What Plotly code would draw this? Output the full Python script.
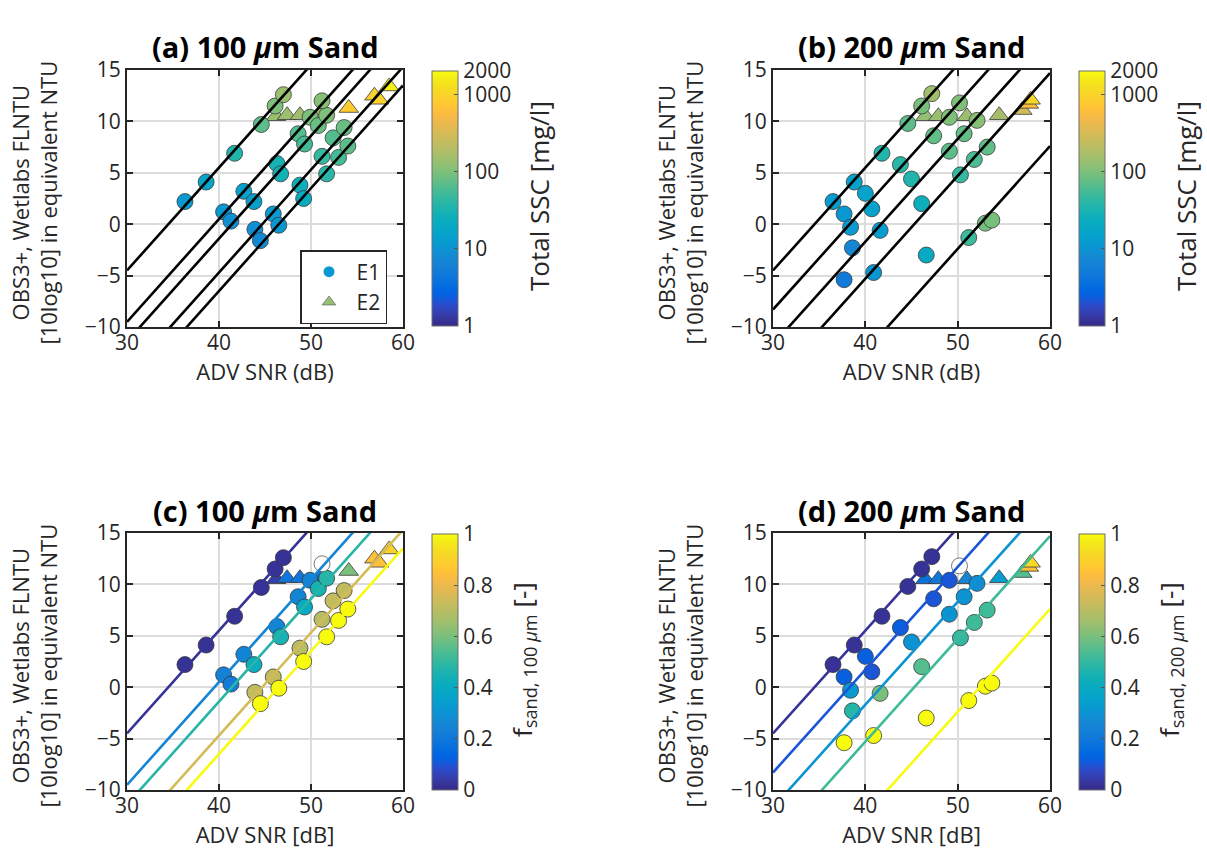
import numpy as np
import plotly.graph_objects as go

# ---------------- data: 100 um sand runs (panels a, c) ----------------
# E1 (circles)
snr_100 = [36.3, 38.6, 41.7, 44.6, 46.1, 47.0,
           40.5, 41.3, 42.7, 46.3, 48.6, 49.9,
           43.8, 46.7, 49.3, 50.8, 51.7,
           43.9, 45.9, 48.8, 51.2, 52.4, 53.6,
           44.5, 46.5, 49.2, 51.7, 53.0, 54.0,
           51.2]
obs_100 = [2.2, 4.1, 6.9, 9.7, 11.5, 12.6,
           1.2, 0.3, 3.2, 5.9, 8.8, 10.4,
           2.2, 4.9, 7.8, 9.6, 10.6,
           -0.5, 1.0, 3.8, 6.6, 8.4, 9.4,
           -1.6, -0.1, 2.5, 4.9, 6.5, 7.6,
           12.0]
ssc_100 = [12, 16, 35, 70, 100, 140,
           11, 9, 15, 30, 65, 95,
           14, 28, 55, 80, 100,
           9, 12, 25, 45, 65, 80,
           8, 11, 22, 40, 55, 70,
           110]
fsand_100 = [0.02, 0.02, 0.02, 0.02, 0.02, 0.02,
             0.24, 0.22, 0.25, 0.25, 0.25, 0.25,
             0.42, 0.45, 0.40, 0.45, 0.48,
             0.72, 0.72, 0.70, 0.70, 0.72, 0.72,
             1.0, 1.0, 1.0, 1.0, 1.0, 1.0,
             np.nan]
# E2 (triangles)
snr_100_e2 = [46.2, 47.4, 48.8, 51.0, 54.1, 56.9, 57.4, 58.5]
obs_100_e2 = [10.5, 10.6, 10.6, 10.6, 11.3, 12.5, 12.1, 13.4]
ssc_100_e2 = [140, 140, 150, 150, 800, 900, 950, 1700]
fsand_100_e2 = [0.05, 0.2, 0.2, 0.2, 0.6, 0.85, 0.85, 0.9]

# fitted calibration lines: OBS = SNR + offset
offset_100 = [-34.5, -39.5, -41.4, -44.7, -46.5]
line_f_100 = [0.02, 0.25, 0.48, 0.75, 1.0]

# ---------------- data: 200 um sand runs (panels b, d) ----------------
snr_200 = [36.5, 38.8, 41.8, 44.6, 46.1, 47.2,
           37.7, 40.0, 40.7, 43.8, 47.4, 49.1,
           38.4, 45.0, 49.1, 50.7, 52.1,
           38.6, 41.6, 46.1, 50.3, 51.8, 53.2,
           37.7, 40.9, 46.6, 51.2, 53.0, 53.7,
           50.2]
obs_200 = [2.2, 4.1, 6.9, 9.8, 11.5, 12.7,
           1.0, 3.0, 1.5, 5.8, 8.6, 10.4,
           -0.3, 4.4, 7.1, 8.8, 10.1,
           -2.3, -0.6, 2.0, 4.8, 6.3, 7.5,
           -5.4, -4.7, -3.0, -1.3, 0.1, 0.4,
           11.8]
ssc_200 = [13, 15, 35, 70, 95, 150,
           11, 16, 15, 40, 75, 100,
           12, 35, 70, 75, 110,
           7, 13, 25, 45, 60, 75,
           5, 11, 20, 50, 90, 95,
           100]
fsand_200 = [0.02, 0.02, 0.02, 0.02, 0.02, 0.02,
             0.12, 0.12, 0.10, 0.12, 0.10, 0.10,
             0.32, 0.30, 0.30, 0.30, 0.28,
             0.48, 0.60, 0.55, 0.50, 0.52, 0.52,
             1.0, 1.0, 1.0, 1.0, 1.0, 1.0,
             np.nan]
snr_200_e2 = [46.5, 47.9, 51.0, 54.5, 57.0, 57.7, 57.9]
obs_200_e2 = [10.5, 10.5, 10.5, 10.6, 11.1, 11.7, 12.1]
ssc_200_e2 = [130, 140, 140, 160, 280, 600, 1100]
fsand_200_e2 = [0.18, 0.2, 0.25, 0.33, 0.55, 0.85, 0.92]

offset_200 = [-34.5, -38.3, -41.7, -45.3, -52.4]
line_f_200 = [0.02, 0.1, 0.3, 0.52, 1.0]

ssc_ticks = [1, 10, 100, 1000, 2000]
fsand_ticks = [0, 0.2, 0.4, 0.6, 0.8, 1]
snr_range = [30, 60]
obs_range = [-10, 15]

# ---------------- parula colormap ----------------
PARULA = [
    (0.2081, 0.1663, 0.5292), (0.2116, 0.1898, 0.5777), (0.2123, 0.2138, 0.6270), (0.2081, 0.2386, 0.6771),
    (0.1959, 0.2645, 0.7279), (0.1707, 0.2919, 0.7792), (0.1253, 0.3242, 0.8303), (0.0591, 0.3598, 0.8683),
    (0.0117, 0.3875, 0.8820), (0.0060, 0.4086, 0.8828), (0.0165, 0.4266, 0.8786), (0.0329, 0.4430, 0.8720),
    (0.0498, 0.4586, 0.8641), (0.0629, 0.4737, 0.8554), (0.0723, 0.4887, 0.8467), (0.0779, 0.5040, 0.8384),
    (0.0793, 0.5200, 0.8312), (0.0749, 0.5375, 0.8263), (0.0641, 0.5570, 0.8240), (0.0488, 0.5772, 0.8228),
    (0.0343, 0.5966, 0.8199), (0.0265, 0.6137, 0.8135), (0.0239, 0.6287, 0.8038), (0.0231, 0.6418, 0.7913),
    (0.0228, 0.6535, 0.7768), (0.0267, 0.6642, 0.7607), (0.0384, 0.6743, 0.7436), (0.0590, 0.6838, 0.7254),
    (0.0843, 0.6928, 0.7062), (0.1133, 0.7015, 0.6859), (0.1453, 0.7098, 0.6646), (0.1801, 0.7177, 0.6424),
    (0.2178, 0.7250, 0.6193), (0.2586, 0.7317, 0.5954), (0.3022, 0.7376, 0.5712), (0.3482, 0.7424, 0.5473),
    (0.3953, 0.7459, 0.5244), (0.4420, 0.7481, 0.5033), (0.4871, 0.7491, 0.4840), (0.5300, 0.7491, 0.4661),
    (0.5709, 0.7485, 0.4494), (0.6099, 0.7473, 0.4337), (0.6473, 0.7456, 0.4188), (0.6834, 0.7435, 0.4044),
    (0.7184, 0.7411, 0.3905), (0.7525, 0.7384, 0.3768), (0.7858, 0.7356, 0.3633), (0.8185, 0.7327, 0.3498),
    (0.8507, 0.7299, 0.3360), (0.8824, 0.7274, 0.3217), (0.9139, 0.7258, 0.3063), (0.9450, 0.7261, 0.2886),
    (0.9739, 0.7314, 0.2666), (0.9938, 0.7455, 0.2403), (0.9990, 0.7653, 0.2164), (0.9955, 0.7861, 0.1967),
    (0.9880, 0.8066, 0.1794), (0.9789, 0.8271, 0.1633), (0.9697, 0.8481, 0.1475), (0.9626, 0.8705, 0.1309),
    (0.9589, 0.8949, 0.1132), (0.9598, 0.9218, 0.0948), (0.9661, 0.9514, 0.0755), (0.9763, 0.9831, 0.0538),
]


def rgb(c):
    return "rgb(%d,%d,%d)" % tuple(int(round(255 * v)) for v in c)


parula_scale = [[i / (len(PARULA) - 1), rgb(c)] for i, c in enumerate(PARULA)]


def parula_at(t):
    t = min(max(t, 0.0), 1.0) * (len(PARULA) - 1)
    i = int(np.floor(t))
    j = min(i + 1, len(PARULA) - 1)
    w = t - i
    return rgb(tuple((1 - w) * a + w * b for a, b in zip(PARULA[i], PARULA[j])))


# ---------------- figure ----------------
W, H = 1207, 861
FONT = "Open Sans"
INK = "#262626"


def px_x(p):
    return p / W


def px_y(p):
    return 1 - p / H


panels = {
    "a": dict(xs="x", ys="y", xd=(127, 403), yd=(70, 327)),
    "b": dict(xs="x2", ys="y2", xd=(773, 1050), yd=(70, 327)),
    "c": dict(xs="x3", ys="y3", xd=(127, 403), yd=(533, 790)),
    "d": dict(xs="x4", ys="y4", xd=(773, 1050), yd=(533, 790)),
}

fig = go.Figure()
edge = dict(color="#3a3a3a", width=0.8)
log_max = np.log10(2000)


def add_points(p, snr, obs, cval, symbol, size, coloraxis, name):
    cval = np.asarray(cval, dtype=float)
    snr = np.asarray(snr)
    obs = np.asarray(obs)
    ok = ~np.isnan(cval)
    fig.add_trace(go.Scatter(
        x=snr[ok], y=obs[ok], mode="markers", xaxis=p["xs"], yaxis=p["ys"],
        marker=dict(symbol=symbol, size=size, color=cval[ok], coloraxis=coloraxis, line=edge),
        showlegend=False, name=name))
    if (~ok).any():
        fig.add_trace(go.Scatter(
            x=snr[~ok], y=obs[~ok], mode="markers", xaxis=p["xs"], yaxis=p["ys"],
            marker=dict(symbol=symbol, size=size, color="white", line=dict(color="#555555", width=0.8)),
            showlegend=False, name=name))


def add_lines(p, offsets, colors):
    for off, col in zip(offsets, colors):
        xs = np.array(snr_range, dtype=float)
        fig.add_trace(go.Scatter(
            x=xs, y=xs + off, mode="lines", xaxis=p["xs"], yaxis=p["ys"],
            line=dict(color=col, width=2.6), showlegend=False, hoverinfo="skip"))


# (a) and (b): colour by total SSC (log scale)
for key, snr, obs, ssc, snr2, obs2, ssc2, offs, cax in [
    ("a", snr_100, obs_100, ssc_100, snr_100_e2, obs_100_e2, ssc_100_e2, offset_100, "coloraxis"),
    ("b", snr_200, obs_200, ssc_200, snr_200_e2, obs_200_e2, ssc_200_e2, offset_200, "coloraxis2"),
]:
    p = panels[key]
    add_points(p, snr2, obs2, np.log10(ssc2), "triangle-up", 17, cax, "E2")
    add_points(p, snr, obs, np.log10(ssc), "circle", 16, cax, "E1")
    add_lines(p, offs, ["black"] * len(offs))

# (c) and (d): colour by sand fraction
for key, snr, obs, fs, snr2, obs2, fs2, offs, lf, cax in [
    ("c", snr_100, obs_100, fsand_100, snr_100_e2, obs_100_e2, fsand_100_e2, offset_100, line_f_100, "coloraxis3"),
    ("d", snr_200, obs_200, fsand_200, snr_200_e2, obs_200_e2, fsand_200_e2, offset_200, line_f_200, "coloraxis4"),
]:
    p = panels[key]
    add_points(p, snr2, obs2, fs2, "triangle-up", 17, cax, "E2")
    add_points(p, snr, obs, fs, "circle", 16, cax, "E1")
    add_lines(p, offs, [parula_at(f) for f in lf])

# legend entries for panel (a)
fig.add_trace(go.Scatter(x=[None], y=[None], mode="markers", name="E1",
                         marker=dict(symbol="circle", size=11, color=parula_at(0.32)),
                         xaxis="x", yaxis="y"))
fig.add_trace(go.Scatter(x=[None], y=[None], mode="markers", name="E2",
                         marker=dict(symbol="triangle-up", size=12, color=parula_at(0.64),
                                     line=dict(color="#555555", width=0.6)),
                         xaxis="x", yaxis="y"))

# axes
axis_common = dict(showgrid=True, gridcolor="#dcdcdc", gridwidth=1.5, zeroline=False,
                   showline=True, linecolor=INK, linewidth=2, mirror="ticks",
                   ticks="inside", ticklen=6, tickwidth=1.5, tickcolor=INK, automargin=False,
                   tickfont=dict(family=FONT, size=21, color=INK))
layout = {}
for i, key in enumerate("abcd"):
    p = panels[key]
    sfx = "" if i == 0 else str(i + 1)
    xtitle = "ADV SNR (dB)" if key in "ab" else "ADV SNR [dB]"
    layout["xaxis" + sfx] = dict(axis_common, domain=[px_x(p["xd"][0]), px_x(p["xd"][1])],
                                 range=snr_range, tick0=30, dtick=10, anchor="y" + sfx,
                                 ticklabelstandoff=-4,
                                 title=dict(text=xtitle, standoff=0,
                                            font=dict(family=FONT, size=22, color=INK)))
    layout["yaxis" + sfx] = dict(axis_common, domain=[px_y(p["yd"][1]), px_y(p["yd"][0])],
                                 range=obs_range, tick0=-10, dtick=5, anchor="x" + sfx)


def colorbar(xpx, ypx, tickvals, ticktext):
    return dict(x=px_x(xpx), xanchor="left", xpad=0, ypad=0,
                y=px_y((ypx[0] + ypx[1]) / 2), yanchor="middle",
                len=(ypx[1] - ypx[0]) / H, lenmode="fraction",
                thickness=26, thicknessmode="pixels",
                outlinecolor="#6e6e6e", outlinewidth=1,
                ticks="inside", ticklen=4, tickcolor="#555555",
                tickvals=tickvals, ticktext=ticktext,
                tickfont=dict(family=FONT, size=21, color=INK))


ssc_tv = list(np.log10(ssc_ticks))
ssc_tt = [str(v) for v in ssc_ticks]
fs_tt = [("%g" % v) for v in fsand_ticks]
layout["coloraxis"] = dict(colorscale=parula_scale, cmin=0, cmax=log_max,
                           colorbar=colorbar(432, (71, 326), ssc_tv, ssc_tt))
layout["coloraxis2"] = dict(colorscale=parula_scale, cmin=0, cmax=log_max,
                            colorbar=colorbar(1079, (71, 326), ssc_tv, ssc_tt))
layout["coloraxis3"] = dict(colorscale=parula_scale, cmin=0, cmax=1,
                            colorbar=colorbar(432, (534, 790), fsand_ticks, fs_tt))
layout["coloraxis4"] = dict(colorscale=parula_scale, cmin=0, cmax=1,
                            colorbar=colorbar(1079, (534, 790), fsand_ticks, fs_tt))

annotations = []
titles = {"a": "(a) 100 <i>μ</i>m Sand", "b": "(b) 200 <i>μ</i>m Sand",
          "c": "(c) 100 <i>μ</i>m Sand", "d": "(d) 200 <i>μ</i>m Sand"}
cbar_titles = {"a": ("Total SSC [mg/l]", 539, 196),
               "b": ("Total SSC [mg/l]", 1186, 196),
               "c": ("f<sub>sand, 100 <i>μ</i>m</sub> [-]", 523, 660),
               "d": ("f<sub>sand, 200 <i>μ</i>m</sub> [-]", 1170, 660)}
for key, p in panels.items():
    cx = (p["xd"][0] + p["xd"][1]) / 2
    annotations.append(dict(text="<b>%s</b>" % titles[key], x=px_x(cx), y=px_y(p["yd"][0] - 23),
                            xref="paper", yref="paper", xanchor="center", yanchor="middle",
                            showarrow=False, font=dict(family=FONT, size=29, color="black")))
    annotations.append(dict(text="OBS3+, Wetlabs FLNTU<br>[10log10] in equivalent NTU",
                            x=px_x(p["xd"][0] - 93), y=px_y((p["yd"][0] + p["yd"][1]) / 2 + 4),
                            xref="paper", yref="paper", xanchor="center", yanchor="middle",
                            textangle=-90, showarrow=False,
                            font=dict(family=FONT, size=22, color=INK)))
    txt, bx, by = cbar_titles[key]
    annotations.append(dict(text=txt, x=px_x(bx), y=px_y(by),
                            xref="paper", yref="paper", xanchor="center", yanchor="middle",
                            textangle=-90, showarrow=False,
                            font=dict(family=FONT, size=26, color=INK)))

fig.update_layout(
    **layout,
    annotations=annotations,
    width=W, height=H,
    margin=dict(l=0, r=0, t=0, b=0, autoexpand=False),
    paper_bgcolor="white", plot_bgcolor="white",
    font=dict(family=FONT, color=INK),
    showlegend=True,
    legend=dict(x=px_x(300), y=px_y(250), xanchor="left", yanchor="top",
                bgcolor="white", bordercolor=INK, borderwidth=1.5,
                font=dict(family=FONT, size=21, color=INK),
                itemwidth=45, itemsizing="trace", tracegroupgap=0),
)

fig.write_html("out.html")
